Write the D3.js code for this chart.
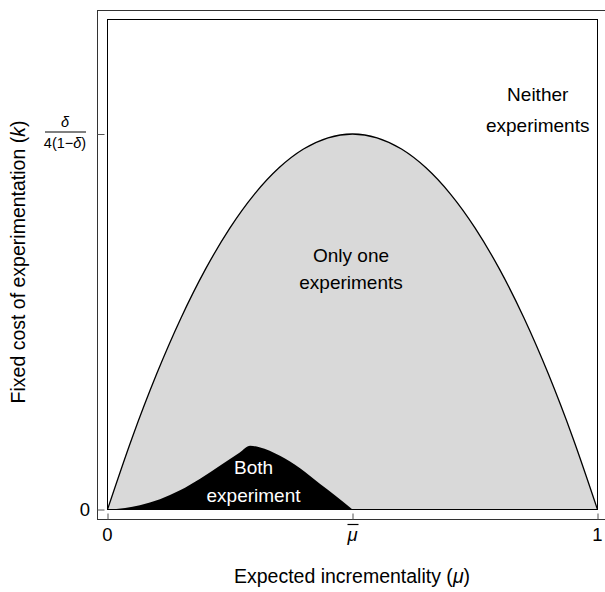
<!DOCTYPE html>
<html>
<head>
<meta charset="utf-8">
<script src="https://cdn.jsdelivr.net/npm/d3@7"></script>
<style>
  body { margin: 0; background: #fff; }
  svg text { font-family: "Liberation Sans", Arial, sans-serif; fill: #000; }
</style>
</head>
<body>
<svg id="chart" width="605" height="592"></svg>
<script>
// outer boundary k(mu), in units of the peak value delta/(4(1-delta))
const muGrid = [0, 0.05, 0.1, 0.15, 0.2, 0.25, 0.3, 0.35, 0.4, 0.45, 0.5,
                0.55, 0.6, 0.65, 0.7, 0.75, 0.8, 0.85, 0.9, 0.95, 1];
const kOne = [0, 0.19, 0.36, 0.51, 0.64, 0.75, 0.84, 0.91, 0.96, 0.99, 1,
              0.99, 0.96, 0.91, 0.84, 0.75, 0.64, 0.51, 0.36, 0.19, 0];

// "both experiment" region upper edge
const muBoth = [0, 0.036, 0.066, 0.107, 0.148, 0.189, 0.23, 0.27, 0.291,
                0.31, 0.352, 0.393, 0.434, 0.464, 0.5];
const kBoth = [0, 0.004, 0.011, 0.027, 0.051, 0.082, 0.117, 0.152, 0.170,
               0.166, 0.143, 0.110, 0.068, 0.038, 0];

const xTicks = [0, 0.5, 1];
const xTickLabels = ["0", "mubar", "1"];
const yTicks = [0, 1];
const yTickLabels = ["0", "frac"];

const regionLabels = [
  {lines: ["Neither", "experiments"], mu: 0.878, k: 1.088, gap: 31, color: "#000"},
  {lines: ["Only one", "experiments"], mu: 0.497, k: 0.66, gap: 27, color: "#000"},
  {lines: ["Both", "experiment"], mu: 0.298, k: 0.095, gap: 28, color: "#fff"}
];

const svg = d3.select("#chart");
const x = d3.scaleLinear().domain([0, 1]).range([107.5, 597.5]);
const y = d3.scaleLinear().domain([0, 1]).range([509.5, 134]);
const kTop = y.invert(19.5);

const oneData = muGrid.map((m, i) => ({mu: m, k: kOne[i]}));
const bothData = muBoth.map((m, i) => ({mu: m, k: kBoth[i]}));

const area = d3.area()
  .x(d => x(d.mu)).y0(y(0)).y1(d => y(d.k))
  .curve(d3.curveMonotoneX);

svg.append("path").datum(oneData)
  .attr("d", area)
  .attr("fill", "#d9d9d9");

svg.append("path").datum(bothData)
  .attr("d", area)
  .attr("fill", "#000");

svg.append("path").datum(oneData)
  .attr("d", d3.line().x(d => x(d.mu)).y(d => y(d.k)).curve(d3.curveMonotoneX))
  .attr("fill", "none")
  .attr("stroke", "#000")
  .attr("stroke-width", 1.3);

// inner plot range rectangle
svg.append("rect")
  .attr("x", x(0)).attr("y", y(kTop))
  .attr("width", x(1) - x(0)).attr("height", y(0) - y(kTop))
  .attr("fill", "none").attr("stroke", "#000").attr("stroke-width", 1);

// outer frame (right edge runs off the canvas)
svg.append("rect")
  .attr("x", 97.5).attr("y", 10.5)
  .attr("width", 520).attr("height", 509)
  .attr("fill", "none").attr("stroke", "#333").attr("stroke-width", 1);

// ticks via axes
const xAxis = svg.append("g")
  .attr("transform", "translate(0,519.5)")
  .call(d3.axisBottom(x).tickValues(xTicks).tickSize(-6).tickFormat(""));
const yAxis = svg.append("g")
  .attr("transform", "translate(97.5,0)")
  .call(d3.axisLeft(y).tickValues(yTicks).tickSize(-7).tickFormat(""));
[xAxis, yAxis].forEach(g => {
  g.select(".domain").remove();
  g.selectAll(".tick line").attr("stroke", "#555");
});

// x tick labels
xTicks.forEach((t, i) => {
  if (xTickLabels[i] === "mubar") {
    svg.append("text")
      .attr("x", x(t)).attr("y", 541)
      .attr("text-anchor", "middle")
      .attr("font-size", 18.5).attr("font-style", "italic")
      .text("\u03bc");
    svg.append("line")
      .attr("x1", x(t) - 5).attr("x2", x(t) + 6)
      .attr("y1", 524.5).attr("y2", 524.5)
      .attr("stroke", "#000").attr("stroke-width", 1.2);
  } else {
    svg.append("text")
      .attr("x", x(t)).attr("y", 541)
      .attr("text-anchor", "middle")
      .attr("font-size", 18.5)
      .text(xTickLabels[i]);
  }
});

// y tick labels
yTicks.forEach((t, i) => {
  if (yTickLabels[i] === "frac") {
    const cx = 65, cy = y(t) - 2;
    svg.append("text")
      .attr("x", cx).attr("y", cy - 5)
      .attr("text-anchor", "middle")
      .attr("font-size", 14.5).attr("font-style", "italic")
      .text("\u03b4");
    svg.append("line")
      .attr("x1", cx - 20).attr("x2", cx + 21)
      .attr("y1", cy).attr("y2", cy)
      .attr("stroke", "#000").attr("stroke-width", 1);
    const den = svg.append("text")
      .attr("x", cx).attr("y", cy + 16)
      .attr("text-anchor", "middle")
      .attr("font-size", 14.5);
    den.append("tspan").text("4(1\u2212");
    den.append("tspan").attr("font-style", "italic").text("\u03b4");
    den.append("tspan").text(")");
  } else {
    svg.append("text")
      .attr("x", 90).attr("y", y(t) + 6.5)
      .attr("text-anchor", "end")
      .attr("font-size", 18.5)
      .text(yTickLabels[i]);
  }
});

// region labels
regionLabels.forEach(r => {
  const t = svg.append("text")
    .attr("text-anchor", "middle")
    .attr("font-size", 19)
    .style("fill", r.color);
  r.lines.forEach((ln, j) => {
    t.append("tspan")
      .attr("x", x(r.mu))
      .attr("y", y(r.k) + j * r.gap)
      .text(ln);
  });
});

// axis titles
const xt = svg.append("text")
  .attr("x", 352).attr("y", 583)
  .attr("text-anchor", "middle")
  .attr("font-size", 19.5);
xt.append("tspan").text("Expected incrementality (");
xt.append("tspan").attr("font-style", "italic").text("\u03bc");
xt.append("tspan").text(")");

const yt = svg.append("text")
  .attr("transform", "translate(25,262) rotate(-90)")
  .attr("text-anchor", "middle")
  .attr("font-size", 19.5);
yt.append("tspan").text("Fixed cost of experimentation (");
yt.append("tspan").attr("font-style", "italic").text("k");
yt.append("tspan").text(")");
</script>
</body>
</html>
